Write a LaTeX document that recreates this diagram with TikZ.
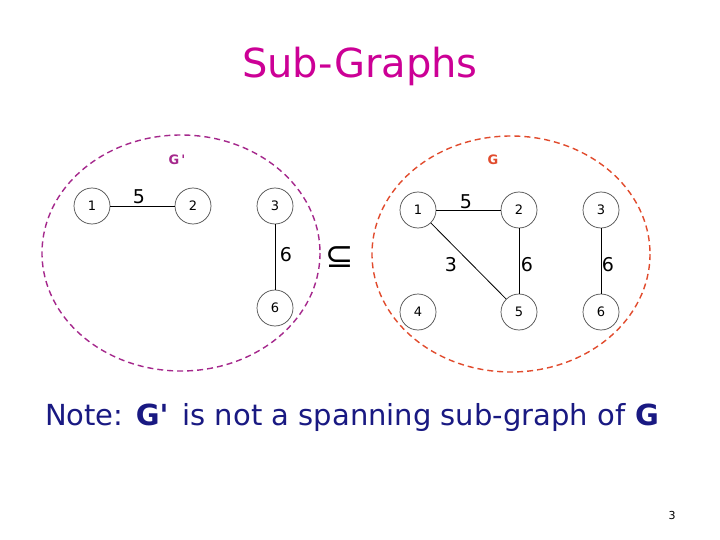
\documentclass[tikz,border=0pt]{standalone}
\usepackage{amsmath}
\usepackage{amssymb}
\usepackage{fontspec}
\setmainfont{DejaVu Sans}
\usepackage{tikz}
\usetikzlibrary{positioning}
\definecolor{titlemag}{RGB}{204,0,150}
\definecolor{subpurple}{RGB}{165,40,140}
\definecolor{graphred}{RGB}{225,75,45}
\definecolor{notenavy}{RGB}{25,25,130}
\tikzset{
  vnode/.style={
    circle, draw=black!70, line width=0.7pt, fill=white,
    minimum size=36pt, inner sep=0pt,
    font=\fontsize{13}{13}\selectfont
  },
  wlabel/.style={font=\fontsize{19}{19}\selectfont, inner sep=1pt},
  graphring/.style={draw=#1, dash pattern=on 6pt off 4pt, line width=1.4pt},
  ringname/.style={font=\fontsize{13}{13}\selectfont\bfseries, text=#1},
  edge/.style={draw=black, line width=0.8pt},
}

\begin{document}
\begin{tikzpicture}[x=1pt, y=-1pt]
  \useasboundingbox[fill=white] (0,0) rectangle (720,540);
  % title
  \node[font=\fontsize{40}{40}\selectfont, text=titlemag] (title) at (360,66) {Sub-Graphs};

  % G' (left)
  \draw[graphring=subpurple] (181,253) ellipse (139 and 118);
  \node[ringname=subpurple] (gpname) at (177,160) {G\,\textquotesingle};
  \node[vnode] (a1) at (92,206) {1};
  \node[vnode] (a2) at (193,206) {2};
  \node[vnode] (a3) at (275,206) {3};
  \node[vnode] (a6) at (275,308) {6};
  \draw[edge] (a1) -- (a2);
  \draw[edge] (a3) -- (a6);
  \node[wlabel] (wa12) at (139,197) {5};
  \node[wlabel] (wa36) at (286,255) {6};

  % subset sign
  \node[font=\fontsize{34}{34}\selectfont] (sub) at (340,257) {⊆};

  % G (right)
  \draw[graphring=graphred] (511,254) ellipse (139 and 118);
  \node[ringname=graphred] (gname) at (493,160) {G};
  \node[vnode] (b1) at (418,210) {1};
  \node[vnode] (b2) at (519,210) {2};
  \node[vnode] (b3) at (601,210) {3};
  \node[vnode] (b4) at (418,312) {4};
  \node[vnode] (b5) at (519,312) {5};
  \node[vnode] (b6) at (601,312) {6};
  \draw[edge] (b1) -- (b2);
  \draw[edge] (b1) -- (b5);
  \draw[edge] (b2) -- (b5);
  \draw[edge] (b3) -- (b6);
  \node[wlabel] (wb12) at (466,202) {5};
  \node[wlabel] (wb15) at (451,265) {3};
  \node[wlabel] (wb25) at (527,265) {6};
  \node[wlabel] (wb36) at (608,265) {6};

  % note and page number
  \node[font=\fontsize{29}{29}\selectfont, text=notenavy] (note) at (352,417)
    {Note: \textbf{G\textquotesingle}\, is not a spanning sub-graph of \textbf{G}};
  \node[font=\fontsize{11}{11}\selectfont] (pnum) at (672,515) {3};
\end{tikzpicture}
\end{document}
